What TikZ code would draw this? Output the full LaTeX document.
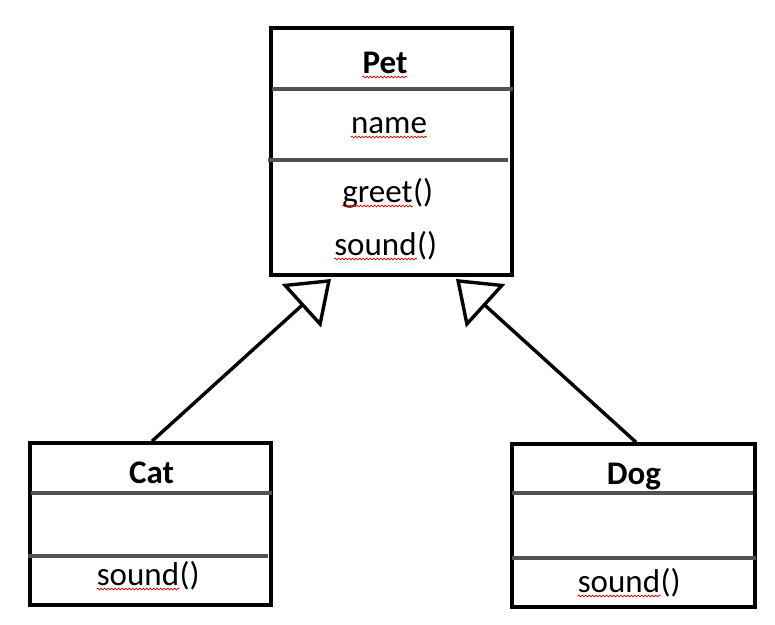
\documentclass[tikz,border=0pt]{standalone}
\usepackage{fontspec}
\setmainfont{Carlito}
\usetikzlibrary{arrows.meta,decorations.pathmorphing}
% red wavy spell-check underline under a word
\newcommand\spellmark[1]{\tikz[baseline=(w.base)]{%
  \node[inner sep=0pt,anchor=base] (w) {#1};%
  \draw[red!85!black,line width=0.7pt,decorate,decoration={snake,amplitude=0.9pt,segment length=3.5pt}]
    ([yshift=-4pt]w.base west) -- ([yshift=-4pt]w.base east);}}
\begin{document}
\begin{tikzpicture}[x=1pt,y=-1pt,
  classbox/.style={draw=black,line width=3.6pt,rectangle,inner sep=0pt},
  divider/.style={draw=black!68,line width=3.4pt},
  label/.style={anchor=base,inner sep=0pt,font=\fontsize{33}{39}\selectfont},
  title/.style={label,font=\fontsize{33}{39}\selectfont\bfseries},
  inherit/.style={line width=3.4pt,-{Triangle[open,length=40pt,width=58pt,line width=3.4pt]}}]
\useasboundingbox (0,0) rectangle (775,624);

% class boxes
\node[classbox,minimum width=241pt,minimum height=247pt] (pet) at (391.5,151.5) {};
\node[classbox,minimum width=241pt,minimum height=162pt] (cat) at (150.5,524) {};
\node[classbox,minimum width=243pt,minimum height=163pt] (dog) at (633.5,525.5) {};

% compartment dividers
\draw[divider] (272,89) -- (513,89);
\draw[divider] (268,160) -- (508,160);
\draw[divider] (31,493) -- (272,493);
\draw[divider] (28,556) -- (268,556);
\draw[divider] (512,493) -- (753,493);
\draw[divider] (512,558) -- (756,558);

% Pet
\node[title] (pettitle) at (385,73) {\spellmark{Pet}};
\node[label] (petattr) at (389,133) {\spellmark{name}};
\node[label] (petgreet) at (387.5,202) {\spellmark{greet}()};
\node[label] (petsound) at (385.5,255) {\spellmark{sound}()};

% Cat
\node[title] (cattitle) at (151.5,483) {Cat};
\node[label] (catsound) at (148,585) {\spellmark{sound}()};

% Dog
\node[title] (dogtitle) at (634,484) {Dog};
\node[label] (dogsound) at (629,592) {\spellmark{sound}()};

% generalisation arrows
\coordinate (cattip) at (331,279);
\coordinate (dogtip) at (456,279);
\draw[inherit] (cat.north -| 152,0) -- (cattip);
\draw[inherit] (dog.north -| 636,0) -- (dogtip);
\end{tikzpicture}
\end{document}
